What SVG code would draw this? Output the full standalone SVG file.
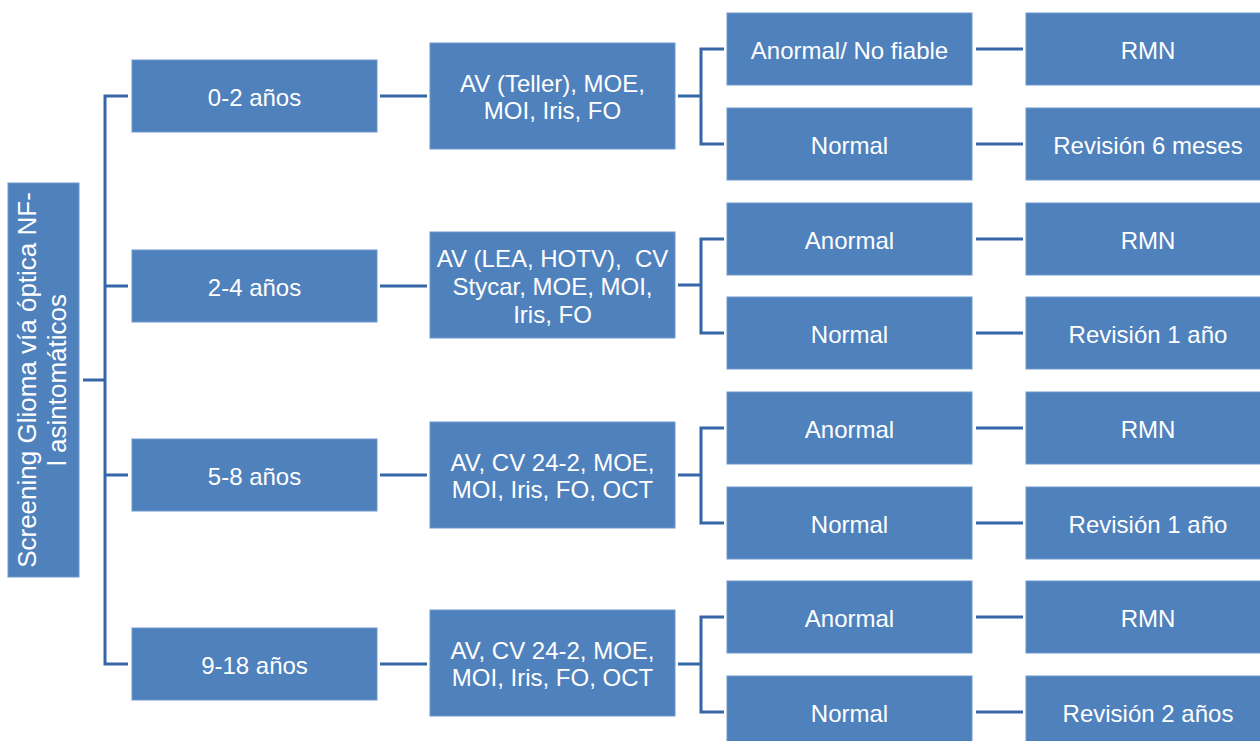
<svg xmlns="http://www.w3.org/2000/svg" width="1260" height="741" viewBox="0 0 1260 741">
<style>
.box{fill:#4f81bd;stroke:#6f98cb;stroke-width:1}
.t{font-family:"Liberation Sans",Arial,sans-serif;font-size:24px;fill:#ffffff;text-anchor:middle}
.tl{font-family:"Liberation Sans",Arial,sans-serif;font-size:26px;fill:#ffffff;text-anchor:middle}
.c{fill:none;stroke:#3566a8;stroke-width:3}
</style>
<rect width="1260" height="741" fill="#ffffff"/>
<g id="connectors">
<path class="c" d="M83 380H105M128 96H105V664H128M105 286H128M105 475H128"/>
<path class="c" d="M380 96H427M380 286H427M380 475H427M380 664H427"/>
<path class="c" d="M678 96H701M724 49H701V144H724"/>
<path class="c" d="M678 285H701M724 239H701V333H724"/>
<path class="c" d="M678 475H701M724 428H701V523H724"/>
<path class="c" d="M678 664H701M724 617H701V712H724"/>
<path class="c" d="M976 49H1023M976 144H1023M976 239H1023M976 333H1023M976 428H1023M976 523H1023M976 617H1023M976 712H1023"/>
</g>
<g id="root">
<rect class="box" x="8" y="183" width="71" height="394"/>
<text class="tl" transform="translate(0,380) rotate(-90)"><tspan x="0" y="36">Screening Glioma vía óptica NF-</tspan><tspan x="0" y="66">l asintomáticos</tspan></text>
</g>
<g id="age-0-2"><rect class="box" x="132" y="60" width="245" height="72"/><text class="t" x="254.5" y="106">0-2 años</text></g>
<g id="age-2-4"><rect class="box" x="132" y="250" width="245" height="72"/><text class="t" x="254.5" y="296">2-4 años</text></g>
<g id="age-5-8"><rect class="box" x="132" y="439" width="245" height="72"/><text class="t" x="254.5" y="485">5-8 años</text></g>
<g id="age-9-18"><rect class="box" x="132" y="628" width="245" height="72"/><text class="t" x="254.5" y="674">9-18 años</text></g>
<g id="test-0-2"><rect class="box" x="430" y="43" width="245" height="106"/><text class="t"><tspan x="552.5" y="92">AV (Teller), MOE,</tspan><tspan x="552.5" y="119">MOI, Iris, FO</tspan></text></g>
<g id="test-2-4"><rect class="box" x="430" y="232" width="245" height="106"/><text class="t"><tspan x="552.5" y="267">AV (LEA, HOTV),&#160; CV</tspan><tspan x="552.5" y="295">Stycar, MOE, MOI,</tspan><tspan x="552.5" y="323">Iris, FO</tspan></text></g>
<g id="test-5-8"><rect class="box" x="430" y="422" width="245" height="106"/><text class="t"><tspan x="552.5" y="471">AV, CV 24-2, MOE,</tspan><tspan x="552.5" y="498">MOI, Iris, FO, OCT</tspan></text></g>
<g id="test-9-18"><rect class="box" x="430" y="610" width="245" height="106"/><text class="t"><tspan x="552.5" y="659">AV, CV 24-2, MOE,</tspan><tspan x="552.5" y="686">MOI, Iris, FO, OCT</tspan></text></g>
<g id="res-0-2-a"><rect class="box" x="727" y="13" width="245" height="72"/><text class="t" x="849.5" y="59">Anormal/ No fiable</text></g>
<g id="res-0-2-n"><rect class="box" x="727" y="108" width="245" height="72"/><text class="t" x="849.5" y="154">Normal</text></g>
<g id="res-2-4-a"><rect class="box" x="727" y="203" width="245" height="72"/><text class="t" x="849.5" y="249">Anormal</text></g>
<g id="res-2-4-n"><rect class="box" x="727" y="297" width="245" height="72"/><text class="t" x="849.5" y="343">Normal</text></g>
<g id="res-5-8-a"><rect class="box" x="727" y="392" width="245" height="72"/><text class="t" x="849.5" y="438">Anormal</text></g>
<g id="res-5-8-n"><rect class="box" x="727" y="487" width="245" height="72"/><text class="t" x="849.5" y="533">Normal</text></g>
<g id="res-9-18-a"><rect class="box" x="727" y="581" width="245" height="72"/><text class="t" x="849.5" y="627">Anormal</text></g>
<g id="res-9-18-n"><rect class="box" x="727" y="676" width="245" height="72"/><text class="t" x="849.5" y="722">Normal</text></g>
<g id="fin-0-2-a"><rect class="box" x="1026" y="13" width="240" height="72"/><text class="t" x="1148" y="59">RMN</text></g>
<g id="fin-0-2-n"><rect class="box" x="1026" y="108" width="240" height="72"/><text class="t" x="1148" y="154">Revisión 6 meses</text></g>
<g id="fin-2-4-a"><rect class="box" x="1026" y="203" width="240" height="72"/><text class="t" x="1148" y="249">RMN</text></g>
<g id="fin-2-4-n"><rect class="box" x="1026" y="297" width="240" height="72"/><text class="t" x="1148" y="343">Revisión 1 año</text></g>
<g id="fin-5-8-a"><rect class="box" x="1026" y="392" width="240" height="72"/><text class="t" x="1148" y="438">RMN</text></g>
<g id="fin-5-8-n"><rect class="box" x="1026" y="487" width="240" height="72"/><text class="t" x="1148" y="533">Revisión 1 año</text></g>
<g id="fin-9-18-a"><rect class="box" x="1026" y="581" width="240" height="72"/><text class="t" x="1148" y="627">RMN</text></g>
<g id="fin-9-18-n"><rect class="box" x="1026" y="676" width="240" height="72"/><text class="t" x="1148" y="722">Revisión 2 años</text></g>
</svg>
